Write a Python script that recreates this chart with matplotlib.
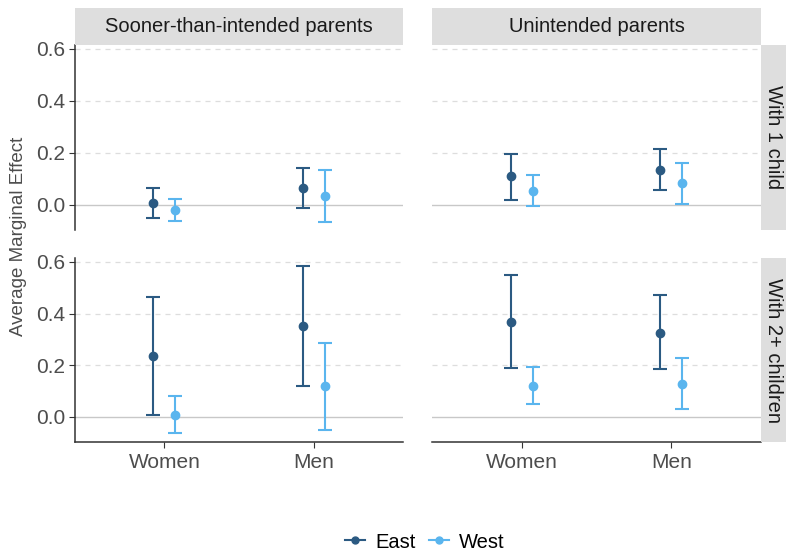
import matplotlib
matplotlib.use("Agg")
import matplotlib.pyplot as plt
from matplotlib.lines import Line2D
import numpy as np

plt.rcParams['font.family'] = ['Liberation Sans', 'DejaVu Sans']

categories = ["Women", "Men"]
regions = ["East", "West"]
col_titles = ["Sooner-than-intended parents", "Unintended parents"]
row_titles = ["With 1 child", "With 2+ children"]
colors = {"East": "#2b5a82", "West": "#5ab5ee"}

# values[row][col][region] -> (estimates for Women, Men)
est = {
    (0, 0): {"East": [0.007, 0.063], "West": [-0.019, 0.035]},
    (0, 1): {"East": [0.109, 0.135], "West": [0.054, 0.082]},
    (1, 0): {"East": [0.236, 0.351], "West": [0.006, 0.118]},
    (1, 1): {"East": [0.367, 0.326], "West": [0.120, 0.127]},
}
lo = {
    (0, 0): {"East": [-0.051, -0.014], "West": [-0.062, -0.065]},
    (0, 1): {"East": [0.020, 0.058], "West": [-0.005, 0.004]},
    (1, 0): {"East": [0.006, 0.118], "West": [-0.062, -0.051]},
    (1, 1): {"East": [0.188, 0.184], "West": [0.050, 0.029]},
}
hi = {
    (0, 0): {"East": [0.063, 0.140], "West": [0.024, 0.135]},
    (0, 1): {"East": [0.196, 0.213], "West": [0.115, 0.160]},
    (1, 0): {"East": [0.466, 0.583], "West": [0.082, 0.287]},
    (1, 1): {"East": [0.548, 0.471], "West": [0.193, 0.229]},
}
yticks = [0.0, 0.2, 0.4, 0.6]
ytick_labels = ["0.0", "0.2", "0.4", "0.6"]

W, H = 786, 553
fig = plt.figure(figsize=(W / 100, H / 100), dpi=100)

def fx(px):
    return px / W

def fy(py):
    return 1 - py / H

col_x = [(75, 403), (432, 761)]
row_y = [(45, 230), (258, 442)]
offsets = {"East": -0.074, "West": 0.074}
strip_col = "#dedede"
text_col = "#4d4d4d"
axis_col = "#333333"

for r in range(2):
    for c in range(2):
        x0, x1 = col_x[c]
        y0, y1 = row_y[r]
        ax = fig.add_axes([fx(x0), fy(y1), fx(x1 - x0), (y1 - y0) / H])
        ax.set_xlim(0.4, 2.6)
        ax.set_ylim(-0.097, 0.615)
        for yv in [0.2, 0.4, 0.6]:
            ax.axhline(yv, color="#dddddd", lw=0.9, ls=(0, (4, 4)), zorder=0)
        ax.axhline(0.0, color="#c8c8c8", lw=1.0, zorder=0)
        xs = np.arange(1, len(categories) + 1)
        for reg in regions:
            e = np.array(est[(r, c)][reg])
            l = np.array(lo[(r, c)][reg])
            h = np.array(hi[(r, c)][reg])
            ax.errorbar(xs + offsets[reg], e, yerr=[e - l, h - e], fmt="o",
                        color=colors[reg], ms=6, elinewidth=1.5, capsize=5.3,
                        capthick=1.5, zorder=3)
        for s in ["top", "right"]:
            ax.spines[s].set_visible(False)
        ax.spines["left"].set_visible(c == 0)
        ax.spines["bottom"].set_visible(r == 1)
        for s in ["left", "bottom"]:
            ax.spines[s].set_color(axis_col)
            ax.spines[s].set_linewidth(1.1)
        ax.set_yticks(yticks)
        if c == 0:
            ax.set_yticklabels(ytick_labels, fontsize=15, color=text_col)
            ax.tick_params(axis="y", length=4, color=axis_col, pad=3)
        else:
            ax.tick_params(axis="y", left=False, labelleft=False)
        ax.set_xticks(xs)
        if r == 1:
            ax.set_xticklabels(categories, fontsize=15, color=text_col)
            ax.tick_params(axis="x", length=4, color=axis_col, pad=4)
        else:
            ax.tick_params(axis="x", bottom=False, labelbottom=False)
        ax.patch.set_alpha(0)

# top strips
for c in range(2):
    x0, x1 = col_x[c]
    sax = fig.add_axes([fx(x0), fy(45), fx(x1 - x0), 37 / H])
    sax.set_facecolor(strip_col)
    sax.set_xticks([]); sax.set_yticks([])
    for s in sax.spines.values():
        s.set_visible(False)
    sax.text(0.5, 0.5, col_titles[c], ha="center", va="center",
             fontsize=14.5, color="#1a1a1a", transform=sax.transAxes)

# right strips
for r in range(2):
    y0, y1 = row_y[r]
    sax = fig.add_axes([fx(761), fy(y1), fx(25), (y1 - y0) / H])
    sax.set_facecolor(strip_col)
    sax.set_xticks([]); sax.set_yticks([])
    for s in sax.spines.values():
        s.set_visible(False)
    sax.text(0.5, 0.5, row_titles[r], ha="center", va="center", rotation=-90,
             fontsize=14.5, color="#1a1a1a", transform=sax.transAxes)

fig.text(fx(19), fy(236), "Average Marginal Effect", rotation=90,
         ha="center", va="center", fontsize=13.5, color=text_col)

handles = [Line2D([0], [0], color=colors[reg], marker="o", ms=5, lw=1.5)
           for reg in regions]
fig.legend(handles, regions, loc="center", bbox_to_anchor=(fx(425), fy(542)),
           ncol=2, frameon=False, fontsize=14.5, handlelength=1.0,
           handletextpad=0.5, columnspacing=0.65)

fig.savefig("out.png", dpi=100)
